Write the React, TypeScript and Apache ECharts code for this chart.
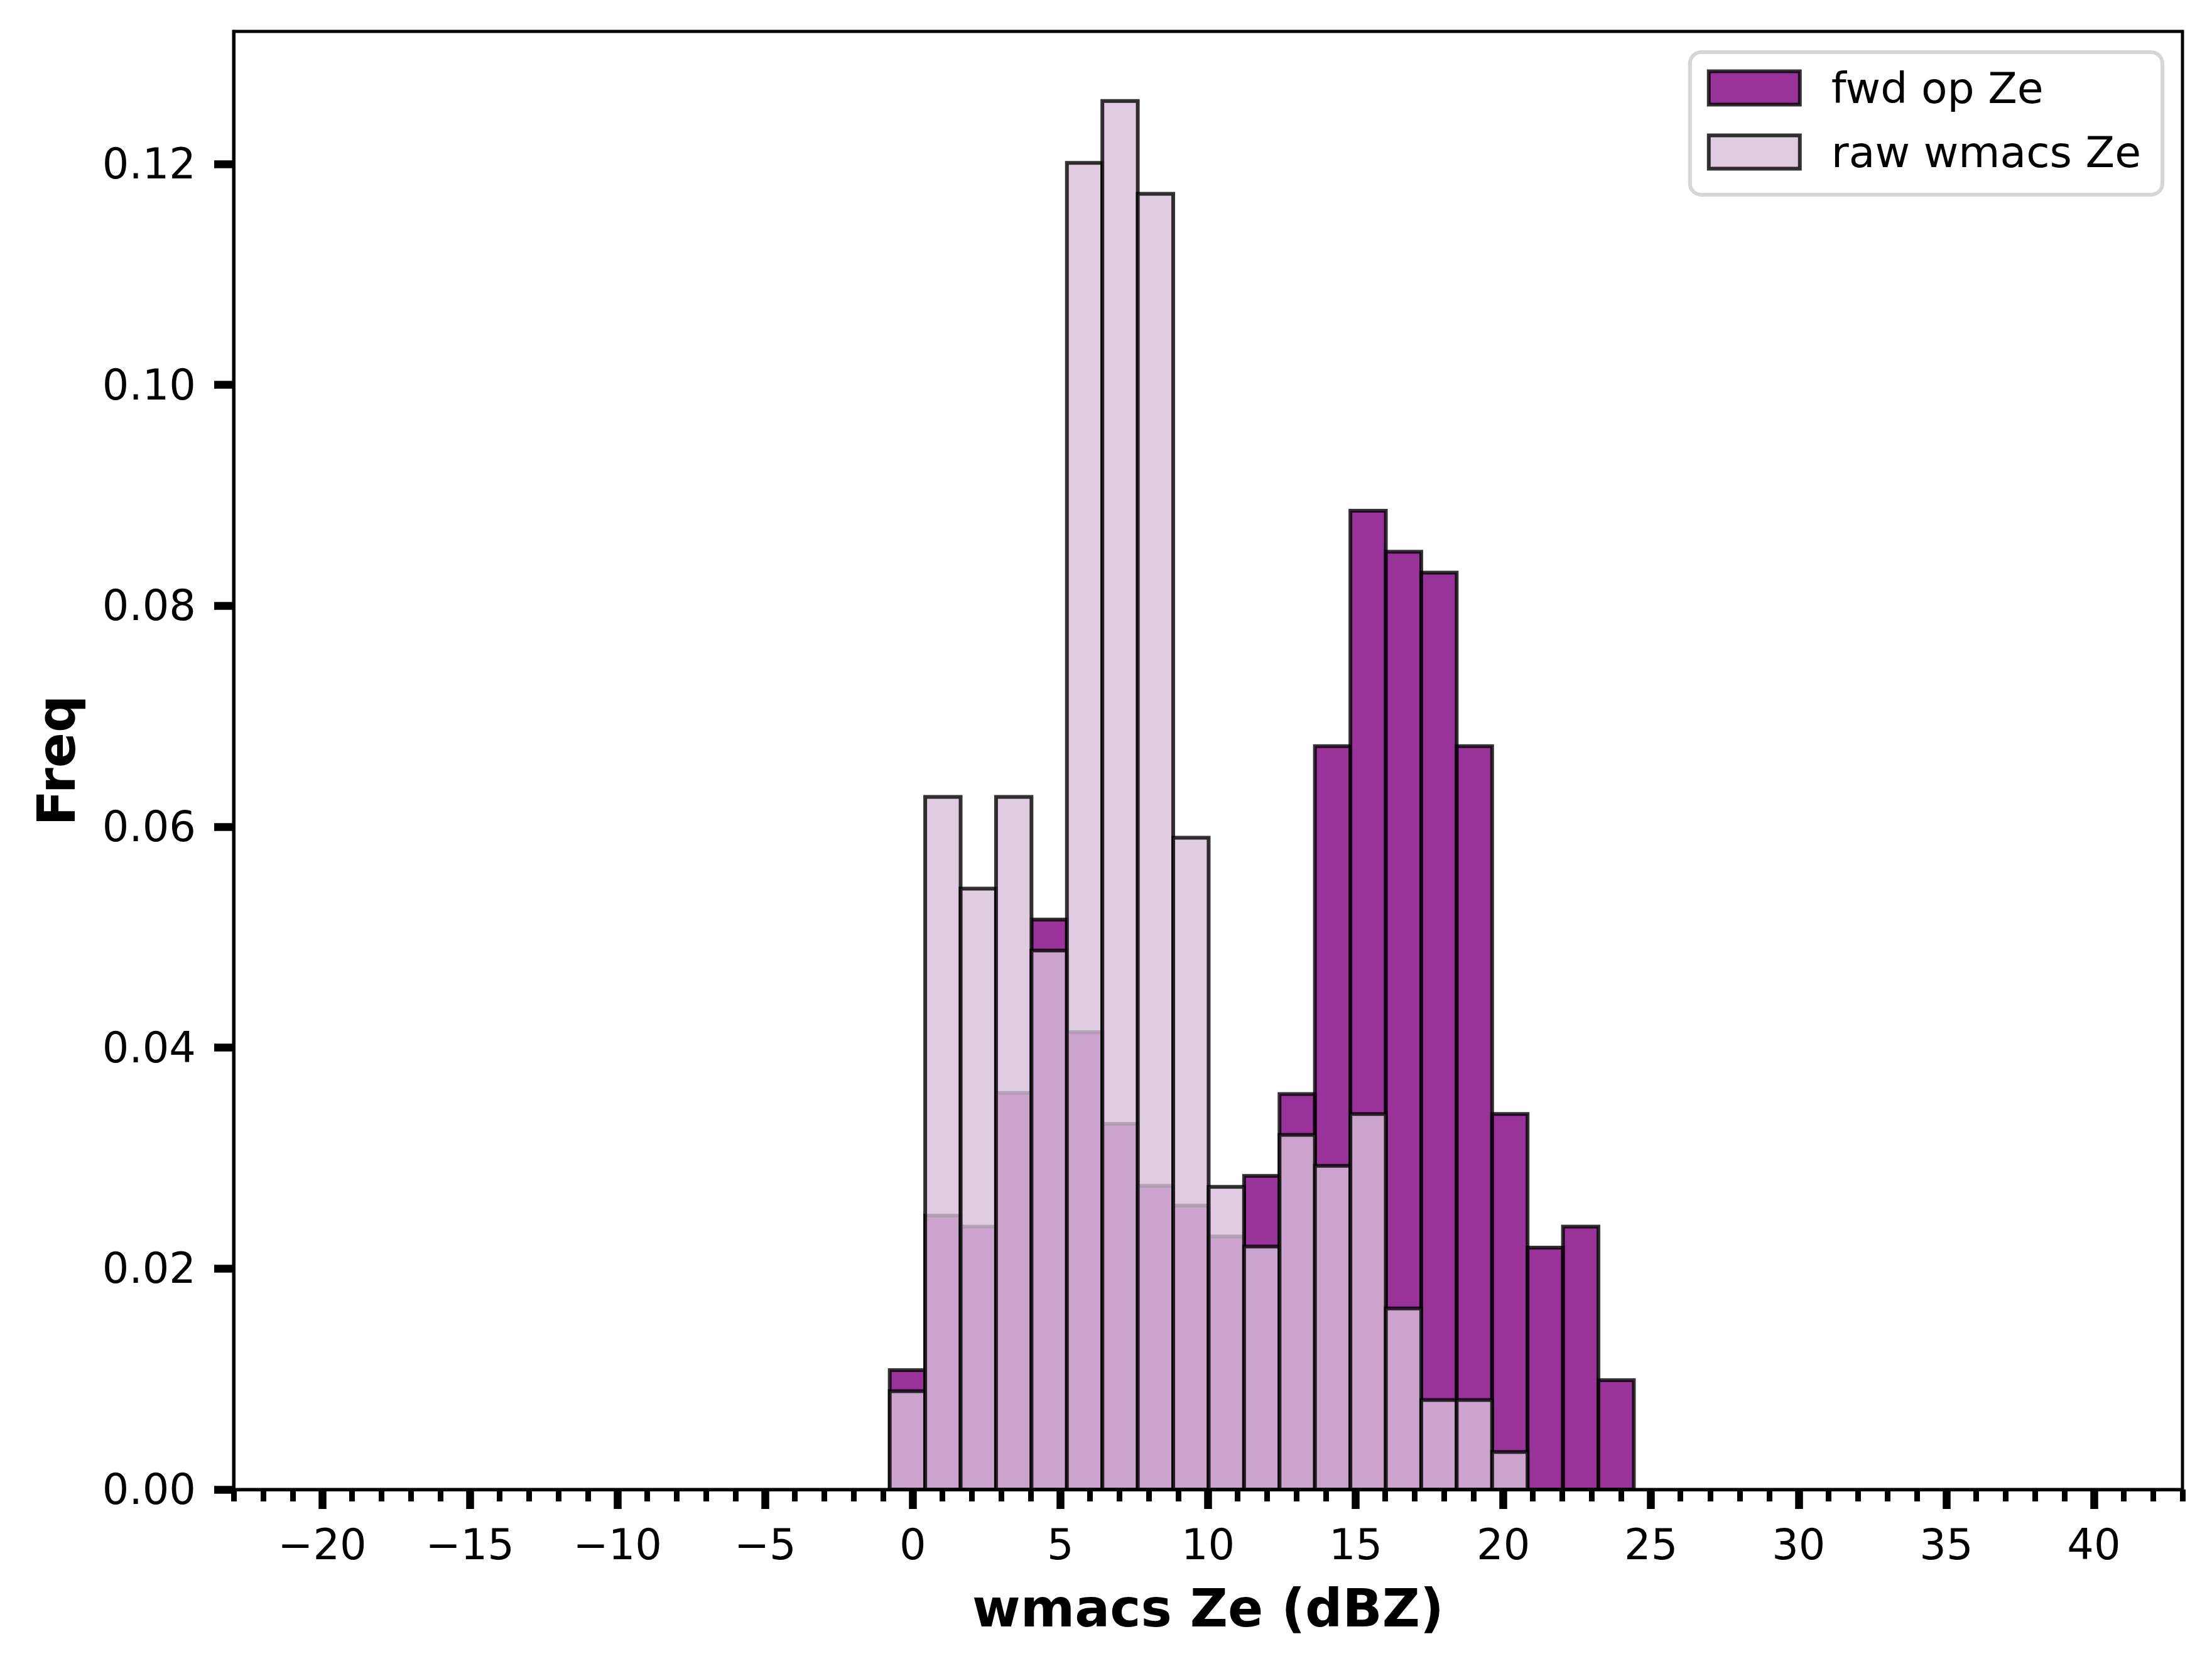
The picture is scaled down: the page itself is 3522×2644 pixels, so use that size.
import React, { useEffect, useRef } from "react";
import * as echarts from "echarts";

// Histogram bin edges (dBZ) shared by both series
const binEdges = [
  -0.78, 0.42, 1.62, 2.82, 4.02, 5.22, 6.42, 7.62, 8.82, 10.02, 11.22,
  12.42, 13.62, 14.82, 16.02, 17.22, 18.42, 19.62, 20.82, 22.02, 23.22, 24.42,
];

// Frequency (density) per bin
const fwdOpZe = [
  0.0108, 0.0248, 0.0238, 0.0359, 0.0516, 0.0414, 0.0331, 0.0275, 0.0257, 0.0229,
  0.0284, 0.0358, 0.0673, 0.0886, 0.0849, 0.0830, 0.0673, 0.0340, 0.0219, 0.0238, 0.0099,
];
const rawWmacsZe = [
  0.0089, 0.0627, 0.0544, 0.0627, 0.0488, 0.1201, 0.1257, 0.1173, 0.0590, 0.0274,
  0.0220, 0.0321, 0.0293, 0.0340, 0.0164, 0.0081, 0.0081, 0.0034, 0, 0, 0,
];

const xMajorTicks = [-20, -15, -10, -5, 0, 5, 10, 15, 20, 25, 30, 35, 40];
const yTicks = [0, 0.02, 0.04, 0.06, 0.08, 0.1, 0.12];
const seriesNames = ["fwd op Ze", "raw wmacs Ze"];

const FONT = "DejaVu Sans";
const FWD_FILL = "rgba(128,0,128,0.8)";
const RAW_FILL = "rgba(216,191,216,0.8)";
const EDGE = "rgba(0,0,0,0.8)";

function histData(vals: number[]) {
  const out: number[][] = [];
  vals.forEach((v, i) => {
    if (v > 0) out.push([binEdges[i], binEdges[i + 1], v]);
  });
  return out;
}

function makeRender(fill: string) {
  return (params: any, api: any) => {
    const x0 = api.value(0);
    const x1 = api.value(1);
    const v = api.value(2);
    const p0 = api.coord([x0, v]);
    const p1 = api.coord([x1, 0]);
    return {
      type: "rect",
      shape: { x: p0[0], y: p0[1], width: p1[0] - p0[0], height: p1[1] - p0[1] },
      style: { fill, stroke: EDGE, lineWidth: 6 },
    };
  };
}

export default function App() {
  const ref = useRef<HTMLDivElement>(null);
  useEffect(() => {
    if (!ref.current) return;
    const chart = echarts.init(ref.current, null, { renderer: "svg" });
    const axisFont = { fontFamily: FONT, fontSize: 67, color: "#000" };
    chart.setOption({
      animation: false,
      backgroundColor: "#fff",
      grid: {
        left: 372,
        right: 47,
        top: 50,
        bottom: 273,
        show: true,
        borderColor: "#000",
        borderWidth: 5,
        backgroundColor: "transparent",
      },
      legend: {
        orient: "vertical",
        right: 79,
        top: 83,
        padding: [17, 34, 28, 27],
        itemGap: 22,
        itemWidth: 145,
        itemHeight: 53,
        backgroundColor: "rgba(255,255,255,0.8)",
        borderColor: "#d6d6d6",
        borderWidth: 6,
        borderRadius: 18,
        textStyle: {
          fontFamily: FONT,
          fontSize: 68,
          color: "#000",
          lineHeight: 80,
          padding: [0, 0, 0, 45],
        },
        data: [
          {
            name: seriesNames[0],
            icon: "rect",
            itemStyle: { color: FWD_FILL, borderColor: EDGE, borderWidth: 6 },
          },
          {
            name: seriesNames[1],
            icon: "rect",
            itemStyle: { color: RAW_FILL, borderColor: EDGE, borderWidth: 6 },
          },
        ],
      },
      xAxis: [
        {
          type: "value",
          min: -23,
          max: 43,
          interval: 1,
          z: 5,
          name: "wmacs Ze (dBZ)",
          nameLocation: "middle",
          nameGap: 148,
          nameTextStyle: { fontFamily: FONT, fontSize: 83, fontWeight: "bold", color: "#000" },
          axisLine: { show: true, onZero: false, lineStyle: { color: "#000", width: 5 } },
          axisTick: { show: true, length: 19, lineStyle: { color: "#000", width: 9 } },
          axisLabel: { show: false },
          splitLine: { show: false },
        },
        {
          type: "value",
          min: -23,
          max: 43,
          position: "bottom",
          z: 5,
          axisLine: { show: false, onZero: false },
          axisTick: {
            show: true,
            length: 31,
            customValues: xMajorTicks,
            lineStyle: { color: "#000", width: 12.5 },
          },
          axisLabel: {
            show: true,
            customValues: xMajorTicks,
            margin: 54,
            ...axisFont,
            formatter: (v: number) => (v < 0 ? "\u2212" + Math.abs(v) : String(v)),
          },
          splitLine: { show: false },
        },
      ],
      yAxis: {
        type: "value",
        min: 0,
        max: 0.132,
        z: 5,
        name: "Freq",
        nameLocation: "middle",
        nameGap: 240,
        nameTextStyle: { fontFamily: FONT, fontSize: 83, fontWeight: "bold", color: "#000" },
        axisLine: { show: true, onZero: false, lineStyle: { color: "#000", width: 5 } },
        axisTick: {
          show: true,
          length: 31,
          customValues: yTicks,
          lineStyle: { color: "#000", width: 12.5 },
        },
        axisLabel: {
          margin: 60,
          customValues: yTicks,
          ...axisFont,
          formatter: (v: number) => v.toFixed(2),
        },
        splitLine: { show: false },
      },
      series: [
        {
          type: "custom",
          name: seriesNames[0],
          xAxisIndex: 0,
          yAxisIndex: 0,
          renderItem: makeRender(FWD_FILL),
          encode: { x: [0, 1], y: 2 },
          itemStyle: { color: FWD_FILL, borderColor: EDGE, borderWidth: 6 },
          data: histData(fwdOpZe),
          z: 2,
        },
        {
          type: "custom",
          name: seriesNames[1],
          xAxisIndex: 0,
          yAxisIndex: 0,
          renderItem: makeRender(RAW_FILL),
          encode: { x: [0, 1], y: 2 },
          itemStyle: { color: RAW_FILL, borderColor: EDGE, borderWidth: 6 },
          data: histData(rawWmacsZe),
          z: 3,
        },
      ],
    });
    return () => chart.dispose();
  }, []);
  return (
    <div
      ref={ref}
      style={{ position: "fixed", left: 0, top: 0, width: 3522, height: 2644 }}
    />
  );
}
